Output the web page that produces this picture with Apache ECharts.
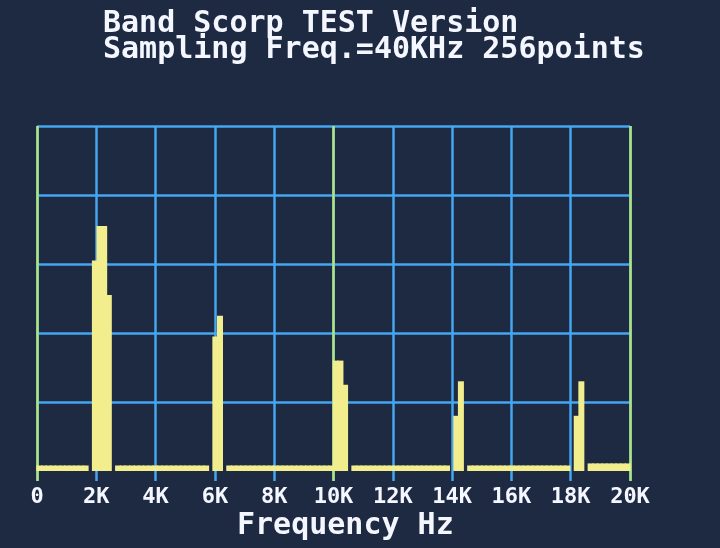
<!DOCTYPE html>
<html>
<head>
<meta charset="utf-8">
<script src="https://cdn.jsdelivr.net/npm/echarts@6/dist/echarts.min.js"></script>
<style>
html,body{margin:0;padding:0;background:#1e2a42;}
#chart{width:720px;height:548px;}
</style>
</head>
<body>
<div id="chart"></div>
<script>
// ---- data ----
const titleLines = ['Band Scorp TEST Version', 'Sampling Freq.=40KHz 256points'];
const axisTitle = 'Frequency Hz';
const tickValues = [0, 2000, 4000, 6000, 8000, 10000, 12000, 14000, 16000, 18000, 20000];
const tickLabels = ['0', '2K', '4K', '6K', '8K', '10K', '12K', '14K', '16K', '18K', '20K'];
const binWidthHz = 156.25; // 40 kHz / 256 points
// magnitude of each of the 128 FFT bins (0..100 scale)
const magnitudes = [
  1.6, 1.6, 1.6, 1.6, 1.6, 1.6, 1.6, 1.6, 1.6, 1.6, 1.6, 0, 61, 71, 71, 51,
  0, 1.6, 1.6, 1.6, 1.6, 1.6, 1.6, 1.6, 1.6, 1.6, 1.6, 1.6, 1.6, 1.6, 1.6, 1.6,
  1.6, 1.6, 1.6, 1.6, 1.6, 0, 39, 45, 0, 1.6, 1.6, 1.6, 1.6, 1.6, 1.6, 1.6,
  1.6, 1.6, 1.6, 1.6, 1.6, 1.6, 1.6, 1.6, 1.6, 1.6, 1.6, 1.6, 1.6, 1.6, 1.6, 1.6,
  32, 32, 25, 0, 1.6, 1.6, 1.6, 1.6, 1.6, 1.6, 1.6, 1.6, 1.6, 1.6, 1.6, 1.6,
  1.6, 1.6, 1.6, 1.6, 1.6, 1.6, 1.6, 1.6, 1.6, 0, 16, 26, 0, 1.6, 1.6, 1.6,
  1.6, 1.6, 1.6, 1.6, 1.6, 1.6, 1.6, 1.6, 1.6, 1.6, 1.6, 1.6, 1.6, 1.6, 1.6, 1.6,
  1.6, 1.6, 1.6, 0, 16, 26, 0, 2.2, 2.2, 2.2, 2.2, 2.2, 2.2, 2.2, 2.2, 2.2
];

// ---- build ----
const BLUE = '#45a6f2';
const GREEN = '#b2e47c';
const YELLOW = '#f2ee8e';
const TEXT = '#f4f7ff';
const FONT = '"DejaVu Sans Mono", "Liberation Mono", monospace';

const barData = magnitudes.map((v, i) => [(i + 0.5) * binWidthHz, v]);
const labelMap = {};
tickValues.forEach((v, i) => { labelMap[v] = tickLabels[i]; });

const chart = echarts.init(document.getElementById('chart'), null, {renderer: 'canvas'});
chart.setOption({
  backgroundColor: '#1e2a42',
  animation: false,
  grid: {left: 37, right: 90, top: 126, bottom: 77, containLabel: false},
  xAxis: [
    {
      type: 'value', min: 0, max: 20000, interval: 2000, position: 'bottom',
      axisLine: {show: false},
      axisTick: {show: true, length: 10, lineStyle: {color: BLUE, width: 2.5}},
      axisLabel: {
        show: true, margin: 15, color: TEXT, fontFamily: FONT, fontWeight: 'bold', fontSize: 22,
        formatter: v => labelMap[v] !== undefined ? labelMap[v] : ''
      },
      splitLine: {show: true, lineStyle: {color: BLUE, width: 2.5}}
    },
    {
      type: 'value', min: 0, max: 20000, interval: 10000, position: 'bottom',
      axisLine: {show: false},
      axisTick: {show: true, length: 10, lineStyle: {color: GREEN, width: 2.5}},
      axisLabel: {show: false},
      splitLine: {show: true, lineStyle: {color: GREEN, width: 2.5}}
    }
  ],
  yAxis: {
    type: 'value', min: 0, max: 100, interval: 20,
    axisLine: {show: false}, axisTick: {show: false}, axisLabel: {show: false},
    splitLine: {show: true, showMinLine: false, lineStyle: {color: BLUE, width: 2.5}}
  },
  series: [{
    type: 'bar',
    xAxisIndex: 0,
    data: barData,
    barWidth: 6,
    itemStyle: {color: YELLOW},
    z: 5
  }],
  graphic: [
    {type: 'text', left: 103, top: 9, style: {text: titleLines[0], fill: TEXT, font: 'bold 30px ' + FONT}},
    {type: 'text', left: 103, top: 35, style: {text: titleLines[1], fill: TEXT, font: 'bold 30px ' + FONT}},
    {type: 'text', left: 237, top: 511, style: {text: axisTitle, fill: TEXT, font: 'bold 30px ' + FONT}}
  ]
});
</script>
</body>
</html>
